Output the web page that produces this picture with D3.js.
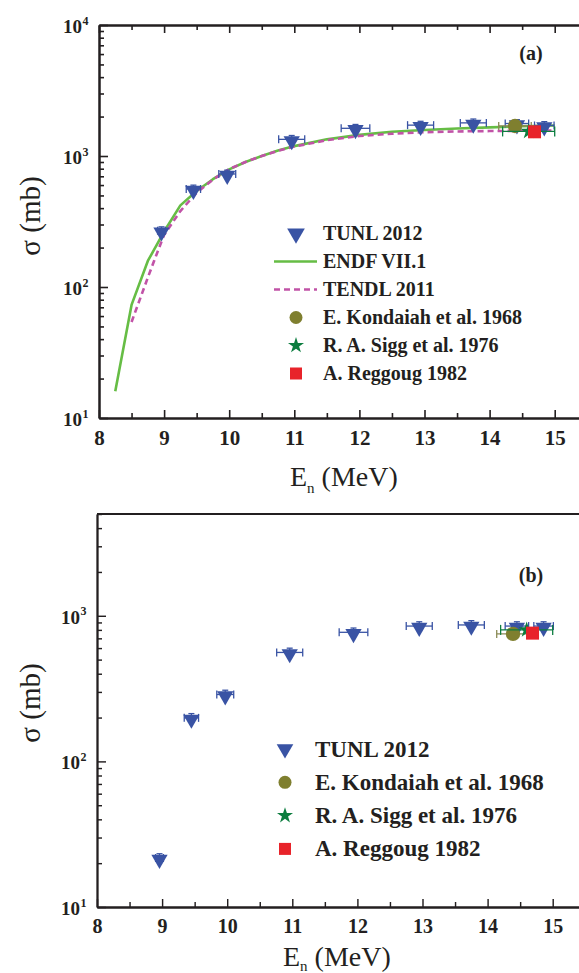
<!DOCTYPE html>
<meta charset="utf-8">
<script src="https://d3js.org/d3.v7.min.js"></script>
<style>
  body { margin: 0; background: #fff; }
  svg text { font-family: "Liberation Serif", "DejaVu Serif", serif !important; fill: #231f20; }
</style>
<div id="chart"></div>
<script>
// ---- data ----
const tunlE_a   = [8.96, 9.45, 9.97, 10.96, 11.94, 12.94, 13.75, 14.42, 14.84];
const tunlS_a   = [269, 560, 729, 1340, 1627, 1720, 1790, 1770, 1710];
const tunlDE    = [0.06, 0.11, 0.13, 0.2, 0.22, 0.2, 0.2, 0.18, 0.15];
const tunlE_b   = [8.96, 9.45, 9.97, 10.96, 11.94, 12.95, 13.75, 14.45, 14.86];
const tunlS_b   = [21.7, 199, 288, 560, 770, 850, 865, 850, 850];

const endfE = [8.25, 8.5, 8.75, 9.0, 9.25, 9.5, 9.75, 10.0, 10.25, 10.5, 10.75, 11.0, 11.5, 12.0, 12.5, 13.0, 13.5, 14.0, 14.5, 15.0];
const endfS = [16, 73, 158, 265, 420, 540, 665, 790, 900, 1000, 1100, 1190, 1340, 1450, 1530, 1580, 1620, 1655, 1685, 1710];
const tendlE = [8.5, 8.75, 8.85, 9.0, 9.25, 9.5, 9.75, 10.0, 10.25, 10.5, 10.75, 11.0, 11.5, 12.0, 12.5, 13.0, 13.5, 14.0, 14.5, 14.95];
const tendlS = [54, 118, 160, 250, 380, 525, 660, 795, 900, 1000, 1095, 1180, 1320, 1420, 1480, 1520, 1540, 1550, 1558, 1562];

const kondE = 14.39, kondS_a = 1694, kondS_b = 751;
const siggE = 14.6,  siggS_a = 1540, siggS_b = 800;
const regE  = 14.69, regS_a = 1530, regS_b = 760;

const legendA = ["TUNL 2012", "ENDF VII.1", "TENDL 2011", "E. Kondaiah et al. 1968", "R. A. Sigg et al. 1976", "A. Reggoug 1982"];
const legendB = ["TUNL 2012", "E. Kondaiah et al. 1968", "R. A. Sigg et al. 1976", "A. Reggoug 1982"];
const xTicks = [8, 9, 10, 11, 12, 13, 14, 15];

const C = { tunl: "#3953a4", endf: "#66bd45", tendl: "#c153a7", kond: "#7f7f2f", sigg: "#0c7d3f", reg: "#e8232a", axis: "#231f20" };
const SERIF = '"Liberation Serif", "DejaVu Serif", serif';

const svg = d3.select("#chart").append("svg").attr("width", 579).attr("height", 973);

function panel(opt) {
  const g = svg.append("g");
  const x = d3.scaleLinear().domain([8, 15.45]).range([opt.left, opt.left + 7.45 * 65.1]);
  const y = d3.scaleLog().domain(opt.yDomain).range([opt.bottom, opt.top]);

  // minor y ticks
  const minors = [];
  for (let d = opt.yDomain[0]; d < opt.yDomain[1]; d *= 10)
    for (let k = 2; k <= 9; k++) if (d * k <= opt.yDomain[1]) minors.push(d * k);
  const majors = opt.yMajors;

  g.append("g").attr("transform", `translate(${opt.left},0)`)
    .call(d3.axisLeft(y).tickValues(minors).tickSize(-5).tickSizeOuter(0).tickFormat(""));
  g.append("g").attr("transform", `translate(${opt.left},0)`)
    .call(d3.axisLeft(y).tickValues(majors).tickSize(-9).tickSizeOuter(0).tickFormat(""));

  const halfs = d3.range(8.5, 15.5, 1);
  g.append("g").attr("transform", `translate(0,${opt.bottom})`)
    .call(d3.axisBottom(x).tickValues(halfs).tickSize(-5).tickSizeOuter(0).tickFormat(""));
  g.append("g").attr("transform", `translate(0,${opt.bottom})`)
    .call(d3.axisBottom(x).tickValues(xTicks).tickSize(-8).tickSizeOuter(0).tickPadding(12).tickFormat(d3.format("d")))
    .attr("font-family", SERIF)
    .selectAll("text").style("font-size", opt.xFont + "px").style("font-weight", "bold").attr("fill", C.axis);

  if (opt.topTicks) {
    g.append("g").attr("transform", `translate(0,${opt.top})`)
      .call(d3.axisTop(x).tickValues(halfs).tickSize(-5).tickSizeOuter(0).tickFormat(""));
    g.append("g").attr("transform", `translate(0,${opt.top})`)
      .call(d3.axisTop(x).tickValues(xTicks).tickSize(-8).tickSizeOuter(0).tickFormat(""));
  } else {
    g.append("line").attr("x1", opt.left).attr("x2", 579).attr("y1", opt.top).attr("y2", opt.top);
  }
  g.selectAll("path.domain, line").attr("stroke", C.axis).attr("stroke-width", opt.lw);
  g.selectAll(".tick line").attr("stroke-width", opt.lw * 0.8);

  // y tick labels with superscripts
  majors.forEach(v => {
    g.append("text").attr("x", opt.left - 17).attr("y", y(v) + 8).attr("font-family", SERIF)
      .attr("text-anchor", "end").style("font-weight", "bold").style("font-size", "19px").text("10");
    g.append("text").attr("x", opt.left - 16.5).attr("y", y(v) - 0.5).attr("font-family", SERIF)
      .style("font-weight", "bold").style("font-size", "12px").text(Math.round(Math.log10(v)));
  });

  // axis titles
  g.append("text").attr("transform", `translate(40,${opt.yTitleY}) rotate(-90)`).attr("font-family", SERIF)
    .attr("text-anchor", "middle").style("font-size", "29px").text("σ (mb)");
  const xt = g.append("text").attr("x", opt.xTitleX).attr("y", opt.xTitleY).attr("font-family", SERIF).style("font-size", "28px");
  xt.append("tspan").text("E");
  xt.append("tspan").attr("dy", opt.subDy).style("font-size", "15px").text("n");
  xt.append("tspan").attr("dy", -opt.subDy).text(" (MeV)");

  g.append("text").attr("x", 531).attr("y", opt.tagY).attr("text-anchor", "middle").attr("font-family", SERIF)
    .style("font-weight", "bold").style("font-size", "20px").text(opt.tag);

  return { g, x, y };
}

function tri(g, cx, cy, size) {
  g.append("path").attr("d", d3.symbol().type(d3.symbolTriangle).size(size)())
    .attr("transform", `translate(${cx},${cy + 1.5}) rotate(180)`).attr("fill", C.tunl);
}
function hbar(g, x0, x1, yy, col, cap) {
  g.append("line").attr("x1", x0).attr("x2", x1).attr("y1", yy).attr("y2", yy).attr("stroke", col).attr("stroke-width", 1.3);
  [x0, x1].forEach(xx => g.append("line").attr("x1", xx).attr("x2", xx).attr("y1", yy - cap).attr("y2", yy + cap)
    .attr("stroke", col).attr("stroke-width", 1.3));
}
function points(p, E, S, extra) {
  const { g, x, y } = p;
  // TUNL error bars + markers
  E.forEach((e, i) => {
    const cx = x(e), cy = y(S[i]);
    hbar(g, x(e - tunlDE[i]), x(e + tunlDE[i]), cy, C.tunl, 4);
    g.append("line").attr("x1", cx).attr("x2", cx).attr("y1", y(S[i] * 1.07)).attr("y2", y(S[i] / 1.07))
      .attr("stroke", C.tunl).attr("stroke-width", 1.3);
    g.append("line").attr("x1", cx - 3).attr("x2", cx + 3).attr("y1", y(S[i] * 1.07)).attr("y2", y(S[i] * 1.07))
      .attr("stroke", C.tunl).attr("stroke-width", 1.3);
  });
  E.forEach((e, i) => tri(g, x(e), y(S[i]), 115));
  // other measurements
  hbar(g, x(kondE - 0.25), x(kondE + 0.25), y(extra.kond), "#8a8a55", 4);
  g.append("circle").attr("cx", x(kondE)).attr("cy", y(extra.kond)).attr("r", 7.2).attr("fill", C.kond);
  hbar(g, x(siggE - 0.4), x(siggE + 0.4), y(extra.sigg), C.sigg, 5);
  g.append("path").attr("d", d3.symbol().type(d3.symbolStar).size(80)())
    .attr("transform", `translate(${x(siggE)},${y(extra.sigg)})`).attr("fill", C.sigg);
  g.append("rect").attr("x", x(regE) - 6.5).attr("y", y(extra.reg) - 6.5).attr("width", 13).attr("height", 13).attr("fill", C.reg);
}
function legend(g, names, mx, tx, y0, dy, font) {
  names.forEach((n, i) => {
    const yy = y0 + i * dy;
    if (n === "TUNL 2012") tri(g, mx, yy - 1.5, font > 21 ? 120 : 135);
    else if (n === "ENDF VII.1") g.append("line").attr("x1", mx - 22).attr("x2", mx + 21).attr("y1", yy).attr("y2", yy)
      .attr("stroke", C.endf).attr("stroke-width", 2.6);
    else if (n === "TENDL 2011") g.append("line").attr("x1", mx - 22).attr("x2", mx + 21).attr("y1", yy).attr("y2", yy)
      .attr("stroke", C.tendl).attr("stroke-width", 2.6).attr("stroke-dasharray", "6,4");
    else if (n.startsWith("E. K")) g.append("circle").attr("cx", mx).attr("cy", yy).attr("r", 6.5).attr("fill", C.kond);
    else if (n.startsWith("R. A")) g.append("path").attr("d", d3.symbol().type(d3.symbolStar).size(80)())
      .attr("transform", `translate(${mx},${yy})`).attr("fill", C.sigg);
    else g.append("rect").attr("x", mx - 6).attr("y", yy - 6).attr("width", 12).attr("height", 12).attr("fill", C.reg);
    g.append("text").attr("x", tx).attr("y", yy + font * 0.33).attr("font-family", SERIF).style("font-weight", "bold")
      .style("font-size", font + "px").text(n);
  });
}

// ---- panel (a) ----
const pa = panel({ left: 99, top: 25, bottom: 418, yDomain: [10, 10000], yMajors: [10, 100, 1000, 10000],
  topTicks: true, lw: 2, xFont: 21, yTitleY: 216, xTitleX: 290, xTitleY: 486, subDy: 7, tag: "(a)", tagY: 60 });
const line = d3.line().x(d => pa.x(d[0])).y(d => pa.y(d[1]));
pa.g.append("path").datum(endfE.map((e, i) => [e, endfS[i]])).attr("d", line)
  .attr("fill", "none").attr("stroke", C.endf).attr("stroke-width", 2.6).attr("stroke-linejoin", "round");
pa.g.append("path").datum(tendlE.map((e, i) => [e, tendlS[i]])).attr("d", line)
  .attr("fill", "none").attr("stroke", C.tendl).attr("stroke-width", 2.6).attr("stroke-dasharray", "6,4");
points(pa, tunlE_a, tunlS_a, { kond: kondS_a, sigg: siggS_a, reg: regS_a });
legend(pa.g, legendA, 296, 323, 233.5, 28, 20);

// ---- panel (b) ----
const pb = panel({ left: 97, top: 514, bottom: 907, yDomain: [10, 5000], yMajors: [10, 100, 1000],
  topTicks: false, lw: 1.8, xFont: 20, yTitleY: 703, xTitleX: 283, xTitleY: 966, subDy: 5, tag: "(b)", tagY: 582 });
points(pb, tunlE_b, tunlS_b, { kond: kondS_b, sigg: siggS_b, reg: regS_b });
legend(pb.g, legendB, 285, 315, 749, 33.3, 23);
</script>
